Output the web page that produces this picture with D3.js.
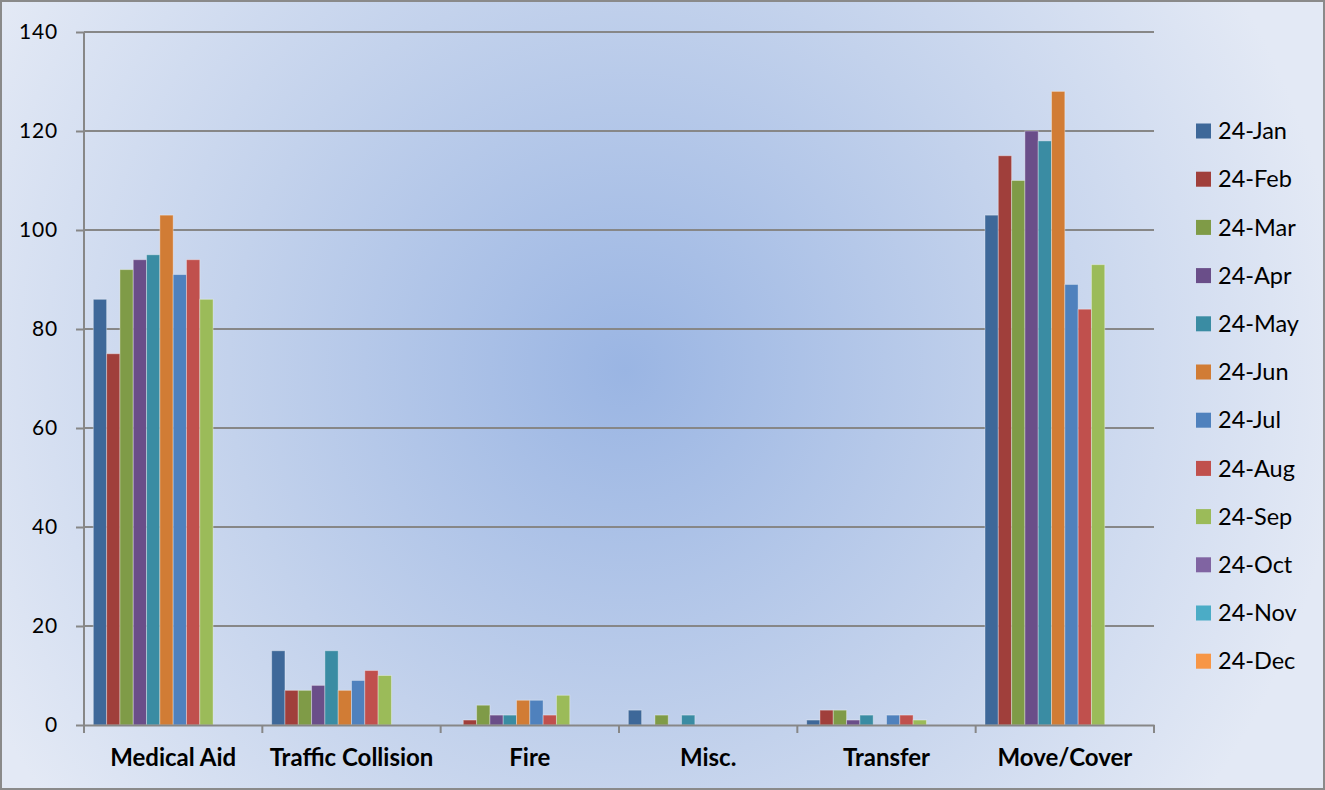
<!DOCTYPE html>
<html>
<head>
<meta charset="utf-8">
<script src="https://cdnjs.cloudflare.com/ajax/libs/d3/7.8.5/d3.min.js"></script>
<style>
  html, body { margin: 0; padding: 0; background: #fff; }
  svg { display: block; }
</style>
</head>
<body>
<div id="chart"></div>
<script>
// categories on the x axis
const categories = ['Medical Aid', 'Traffic Collision', 'Fire', 'Misc.', 'Transfer', 'Move/Cover'];
// one series per month
const months = ['24-Jan', '24-Feb', '24-Mar', '24-Apr', '24-May', '24-Jun',
  '24-Jul', '24-Aug', '24-Sep', '24-Oct', '24-Nov', '24-Dec'];
const jan = [86, 15, 0, 3, 1, 103];
const feb = [75, 7, 1, 0, 3, 115];
const mar = [92, 7, 4, 2, 3, 110];
const apr = [94, 8, 2, 0, 1, 120];
const may = [95, 15, 2, 2, 2, 118];
const jun = [103, 7, 5, 0, 0, 128];
const jul = [91, 9, 5, 0, 2, 89];
const aug = [94, 11, 2, 0, 2, 84];
const sep = [86, 10, 6, 0, 1, 93];
const oct = [0, 0, 0, 0, 0, 0];
const nov = [0, 0, 0, 0, 0, 0];
const dec = [0, 0, 0, 0, 0, 0];
const yTicks = [0, 20, 40, 60, 80, 100, 120, 140];

const seriesValues = [jan, feb, mar, apr, may, jun, jul, aug, sep, oct, nov, dec];
const colors = ['#3e6899', '#a03f3b', '#7f9b47', '#6a4e89', '#3a8ca3', '#d17c35',
  '#4f81bd', '#c0504d', '#9bbb59', '#8064a2', '#4bacc6', '#f79646'];

const width = 1325;
const height = 790;
const margin = { top: 32, left: 84, bottom: 65, right: 171 };
const iwidth = width - margin.left - margin.right;
const iheight = height - margin.top - margin.bottom;

const svg = d3.select('#chart').append('svg')
  .attr('width', width)
  .attr('height', height);

const defs = svg.append('defs');
const grad = defs.append('radialGradient')
  .attr('id', 'bg')
  .attr('gradientUnits', 'userSpaceOnUse')
  .attr('cx', 625).attr('cy', 370).attr('r', 720);
grad.append('stop').attr('offset', '0%').attr('stop-color', '#9ab5e3');
grad.append('stop').attr('offset', '55%').attr('stop-color', '#c3d2ec');
grad.append('stop').attr('offset', '100%').attr('stop-color', '#e3e9f5');

svg.append('rect')
  .attr('x', 1).attr('y', 1)
  .attr('width', width - 2).attr('height', height - 2)
  .attr('fill', 'url(#bg)')
  .attr('stroke', '#8a8a8a')
  .attr('stroke-width', 2);

const g = svg.append('g')
  .attr('transform', `translate(${margin.left},${margin.top})`);

const x0 = d3.scaleBand()
  .domain(categories)
  .range([0, iwidth])
  .paddingInner(0)
  .paddingOuter(0);

// 12 bars per group, gap of about 1.4 bar widths shared on both sides
const x1 = d3.scaleBand()
  .domain(months)
  .range([0, x0.bandwidth()])
  .paddingInner(0)
  .paddingOuter(0.7);

const y = d3.scaleLinear()
  .domain([0, 140])
  .range([iheight, 0]);

// gridlines
g.append('g')
  .selectAll('line')
  .data(yTicks.filter(d => d > 0))
  .join('line')
  .attr('x1', 0).attr('x2', iwidth)
  .attr('y1', d => y(d)).attr('y2', d => y(d))
  .attr('stroke', '#878787')
  .attr('stroke-width', 2);

// bars
const rows = categories.map((c, i) => ({
  cat: c,
  vals: months.map((m, j) => ({ month: m, value: seriesValues[j][i], color: colors[j] }))
}));

g.append('g')
  .selectAll('g')
  .data(rows)
  .join('g')
  .attr('transform', d => `translate(${x0(d.cat)},0)`)
  .selectAll('rect')
  .data(d => d.vals.filter(v => v.value > 0))
  .join('rect')
  .attr('x', d => x1(d.month))
  .attr('y', d => y(d.value))
  .attr('width', x1.bandwidth())
  .attr('height', d => iheight - y(d.value))
  .attr('fill', d => d.color)
  .attr('stroke', 'rgba(255,255,255,0.35)')
  .attr('stroke-width', 1);

// y axis
const yAxis = g.append('g')
  .call(d3.axisLeft(y).tickValues(yTicks).tickSize(8).tickPadding(18));
yAxis.select('.domain').attr('stroke', '#878787').attr('stroke-width', 2)
  .attr('d', `M0,${iheight + 8}V0`);
yAxis.selectAll('.tick line').attr('stroke', '#878787').attr('stroke-width', 2);
yAxis.selectAll('.tick text')
  .attr('fill', '#000')
  .style('font-family', 'Lato, "Open Sans", sans-serif')
  .style('font-size', '21px')
  .style('letter-spacing', '0.8px');

// x axis
const xAxis = g.append('g')
  .attr('transform', `translate(0,${iheight})`)
  .call(d3.axisBottom(x0).tickSize(0).tickPadding(24));
xAxis.select('.domain').attr('stroke', '#878787').attr('stroke-width', 2);
xAxis.selectAll('.tick text')
  .attr('fill', '#000')
  .style('font-family', 'Lato, "Open Sans", sans-serif')
  .style('font-weight', 'bold')
  .style('font-size', '24px');
// category boundary ticks
xAxis.append('g')
  .selectAll('line')
  .data(d3.range(categories.length + 1))
  .join('line')
  .attr('x1', i => i * x0.step()).attr('x2', i => i * x0.step())
  .attr('y1', 0).attr('y2', 8)
  .attr('stroke', '#878787')
  .attr('stroke-width', 2);

// legend
const legend = svg.append('g')
  .attr('transform', 'translate(1196,131)');
const item = legend.selectAll('g')
  .data(months)
  .join('g')
  .attr('transform', (d, i) => `translate(0,${i * 48.2})`);
item.append('rect')
  .attr('x', 0).attr('y', -7.5)
  .attr('width', 15).attr('height', 15)
  .attr('fill', (d, i) => colors[i]);
item.append('text')
  .attr('x', 22).attr('y', 0)
  .attr('dy', '0.35em')
  .style('font-family', 'Lato, "Open Sans", sans-serif')
  .style('font-size', '23.5px')
  .attr('fill', '#000')
  .text(d => d);
</script>
</body>
</html>
